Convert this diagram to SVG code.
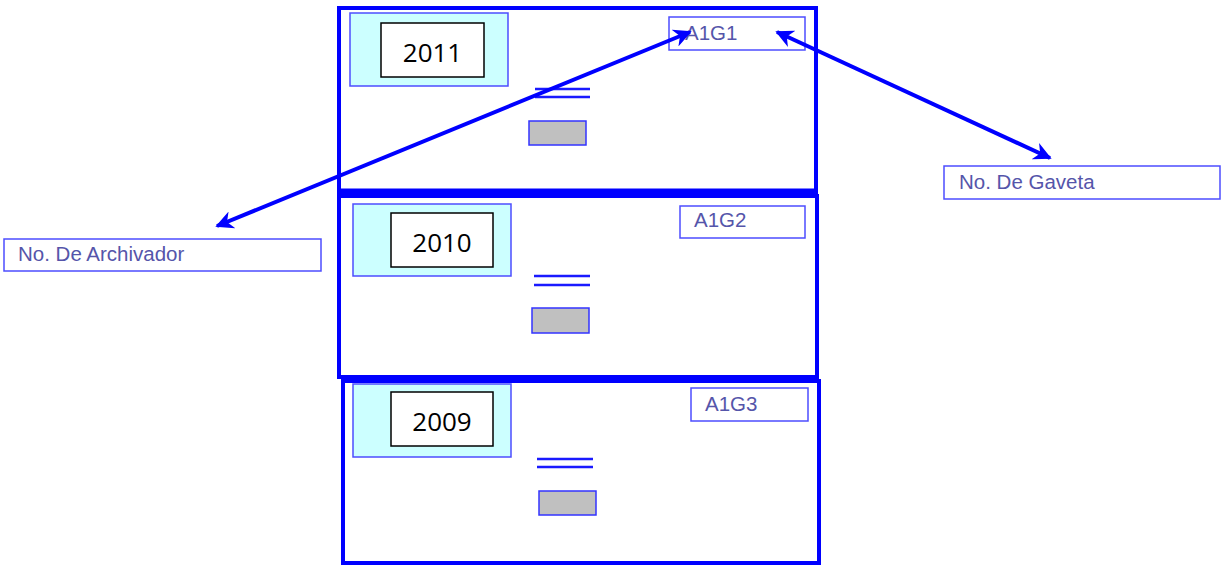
<svg xmlns="http://www.w3.org/2000/svg" width="1225" height="571" viewBox="0 0 1225 571">
<style>
.outer{fill:#fff;stroke:#0000ff;stroke-width:4}
.cyan{fill:#ccffff;stroke:#4d4dff;stroke-width:1.5}
.year{fill:#fff;stroke:#000;stroke-width:1.5}
.yt{font-family:"Open Sans","Liberation Sans",sans-serif;font-size:26px;fill:#000;text-anchor:middle}
.code{fill:#fff;stroke:#4d4dff;stroke-width:1.5}
.ct{font-family:"Liberation Sans",Arial,sans-serif;font-size:20.5px;fill:#5555aa}
.dl{stroke:#1a1aff;stroke-width:2.5}
.gray{fill:#c0c0c0;stroke:#3333ff;stroke-width:1.5}
.conn{stroke:#0000ff;stroke-width:4;fill:none;marker-start:url(#ah);marker-end:url(#ah)}
</style>
<defs>
<marker id="ah" viewBox="0 0 10 10" refX="9" refY="5" markerWidth="4.5" markerHeight="4.5" orient="auto-start-reverse" markerUnits="strokeWidth">
<path d="M0,0 L10,5 L0,10 L3,5 Z" fill="#0000ff"/>
</marker>
</defs>
<rect width="1225" height="571" fill="#fff"/>
<g id="drawer1">
<rect class="outer" x="339" y="8" width="477" height="184"/>
<line x1="339" y1="191" x2="816" y2="191" stroke="#0000ff" stroke-width="5"/>
<rect class="cyan" x="350" y="13" width="158" height="73"/>
<rect class="year" x="381" y="23" width="103" height="54"/>
<text class="yt" x="432.5" y="62">2011</text>
<rect class="code" x="669" y="17" width="136" height="33"/>
<text class="ct" x="685" y="40">A1G1</text>
<line class="dl" x1="535" y1="89" x2="590" y2="89"/>
<line class="dl" x1="535" y1="97" x2="590" y2="97"/>
<rect class="gray" x="529" y="121" width="57" height="24"/>
</g>
<g id="drawer2">
<rect class="outer" x="339" y="196" width="478" height="181"/>
<rect class="cyan" x="353" y="204" width="158" height="72"/>
<rect class="year" x="391" y="213" width="102" height="54"/>
<text class="yt" x="442" y="252">2010</text>
<rect class="code" x="680" y="206" width="125" height="32"/>
<text class="ct" x="694" y="227">A1G2</text>
<line class="dl" x1="534" y1="276" x2="590" y2="276"/>
<line class="dl" x1="534" y1="285" x2="590" y2="285"/>
<rect class="gray" x="532" y="308" width="57" height="25"/>
</g>
<g id="drawer3">
<rect class="outer" x="343" y="381" width="476" height="182"/>
<rect class="cyan" x="353" y="384" width="158" height="73"/>
<rect class="year" x="391" y="392" width="102" height="54"/>
<text class="yt" x="442" y="431">2009</text>
<rect class="code" x="691" y="388" width="117" height="33"/>
<text class="ct" x="705" y="411">A1G3</text>
<line class="dl" x1="537" y1="459" x2="593" y2="459"/>
<line class="dl" x1="537" y1="467" x2="593" y2="467"/>
<rect class="gray" x="539" y="491" width="57" height="24"/>
</g>
<g id="label-archivador">
<rect class="code" x="4" y="239" width="317" height="32"/>
<text class="ct" x="18" y="261">No. De Archivador</text>
</g>
<g id="label-gaveta">
<rect class="code" x="944" y="166" width="276" height="33"/>
<text class="ct" x="959" y="189">No. De Gaveta</text>
</g>
<g id="connectors">
<line class="conn" x1="217" y1="226" x2="690" y2="32"/>
<line class="conn" x1="777" y1="32" x2="1050" y2="158"/>
</g>
</svg>
